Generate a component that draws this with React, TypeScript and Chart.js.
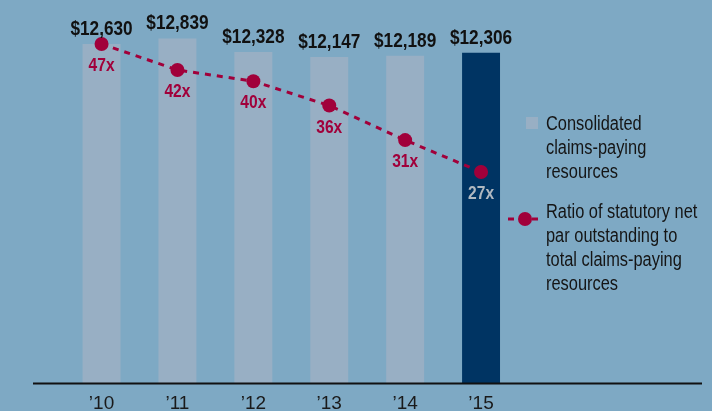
import React, { useEffect, useRef } from "react";
import { Chart, registerables } from "chart.js";

Chart.register(...registerables);

const categories = ["’10", "’11", "’12", "’13", "’14", "’15"];
const resources = [12630, 12839, 12328, 12147, 12189, 12306];
const resourceLabels = ["$12,630", "$12,839", "$12,328", "$12,147", "$12,189", "$12,306"];
const ratios = [47, 42, 40, 36, 31, 27];
const ratioLabels = ["47x", "42x", "40x", "36x", "31x", "27x"];
const legendBars = ["Consolidated", "claims-paying", "resources"];
const legendLine = ["Ratio of statutory net", "par outstanding to", "total claims-paying", "resources"];

const BG = "#7ea9c4";
const LIGHT = "#98afc4";
const DARK = "#003463";
const RED = "#a1003a";
const FONT = '"Liberation Sans", Arial, sans-serif';
const SQUEEZE = 0.82;

function narrowText(ctx: CanvasRenderingContext2D, text: string, x: number, y: number) {
  ctx.save();
  ctx.translate(x, y);
  ctx.scale(SQUEEZE, 1);
  ctx.fillText(text, 0, 0);
  ctx.restore();
}

const decor = {
  id: "decor",
  afterDatasetsDraw(chart: any) {
    const ctx = chart.ctx;
    const barMeta = chart.getDatasetMeta(1);
    const lineMeta = chart.getDatasetMeta(0);
    ctx.save();
    // value labels
    ctx.font = `bold 21px ${FONT}`;
    ctx.fillStyle = "#111";
    ctx.textAlign = "center";
    ctx.textBaseline = "alphabetic";
    barMeta.data.forEach((bar: any, i: number) => {
      narrowText(ctx, resourceLabels[i], bar.x, bar.y - 9);
    });
    // ratio labels
    ctx.font = `bold 19px ${FONT}`;
    ctx.textBaseline = "middle";
    lineMeta.data.forEach((pt: any, i: number) => {
      ctx.fillStyle = i === lineMeta.data.length - 1 ? "#b0b8c0" : RED;
      narrowText(ctx, ratioLabels[i], pt.x, pt.y + 22);
    });
    // baseline
    ctx.strokeStyle = "#111";
    ctx.lineWidth = 2;
    ctx.beginPath();
    ctx.moveTo(33, chart.chartArea.bottom + 0.5);
    ctx.lineTo(702, chart.chartArea.bottom + 0.5);
    ctx.stroke();
    // legend
    ctx.fillStyle = LIGHT;
    ctx.fillRect(526, 117, 12, 12);
    ctx.font = `20px ${FONT}`;
    ctx.fillStyle = "#151515";
    ctx.textAlign = "left";
    ctx.textBaseline = "middle";
    legendBars.forEach((t, i) => narrowText(ctx, t, 546, 124 + i * 24));
    ctx.strokeStyle = RED;
    ctx.lineWidth = 3;
    ctx.setLineDash([6, 6]);
    ctx.beginPath();
    ctx.moveTo(508, 219);
    ctx.lineTo(544, 219);
    ctx.stroke();
    ctx.setLineDash([]);
    ctx.fillStyle = RED;
    ctx.beginPath();
    ctx.arc(525, 219, 7, 0, Math.PI * 2);
    ctx.fill();
    ctx.fillStyle = "#151515";
    legendLine.forEach((t, i) => narrowText(ctx, t, 546, 212 + i * 24));
    ctx.restore();
  },
};

export default function App() {
  const ref = useRef<HTMLCanvasElement>(null);
  useEffect(() => {
    const chart = new Chart(ref.current!, {
      type: "bar",
      data: {
        labels: categories,
        datasets: [
          {
            type: "line",
            label: "Ratio",
            data: ratios,
            yAxisID: "y2",
            borderColor: RED,
            borderWidth: 3,
            borderDash: [6, 6],
            pointRadius: 7,
            pointBackgroundColor: RED,
            pointBorderWidth: 0,
            order: 0,
          } as any,
          {
            type: "bar",
            label: "Resources",
            data: resources,
            yAxisID: "y",
            backgroundColor: resources.map((_, i) => (i === resources.length - 1 ? DARK : LIGHT)),
            categoryPercentage: 1,
            barPercentage: 0.5,
            order: 1,
          },
        ],
      },
      options: {
        animation: false,
        responsive: false,
        layout: { autoPadding: false, padding: { left: 63.6, right: 193, top: 0, bottom: 0 } },
        plugins: { legend: { display: false }, tooltip: { enabled: false } },
        scales: {
          x: {
            grid: { display: false },
            border: { display: false },
            ticks: { color: "#1a1a1a", font: { family: FONT, size: 19 }, padding: 1 },
            afterFit: (s: any) => {
              s.height = 28;
            },
          },
          y: { display: false, min: 0, max: 14270 },
          y2: { type: "logarithmic", display: false, min: 10.83, max: 56.86 },
        },
      },
      plugins: [decor],
    });
    return () => chart.destroy();
  }, []);
  return (
    <div style={{ position: "fixed", left: 0, top: 0, width: 712, height: 411, background: BG }}>
      <canvas ref={ref} width={712} height={411} style={{ display: "block" }} />
    </div>
  );
}
